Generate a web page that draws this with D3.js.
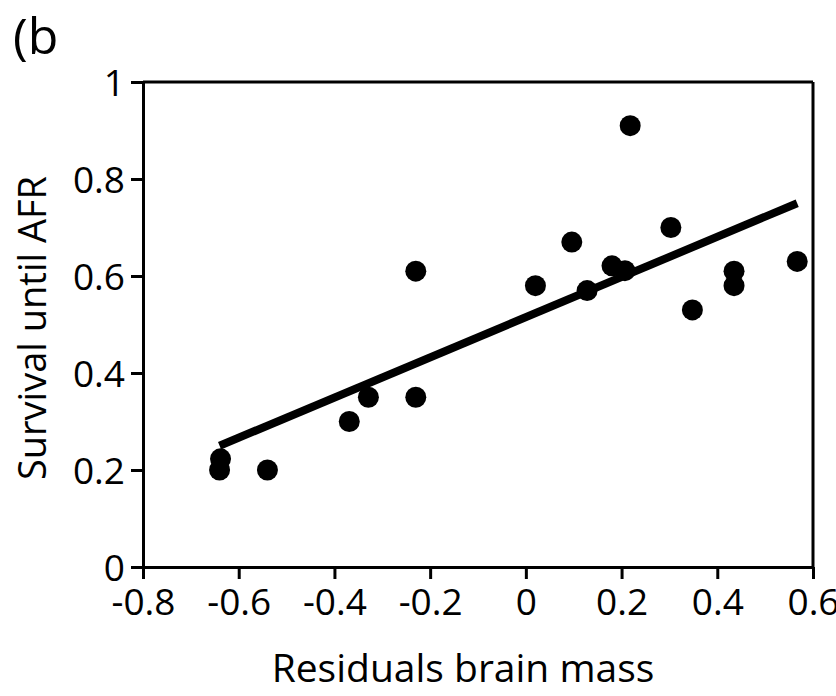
<!DOCTYPE html>
<html>
<head>
<meta charset="utf-8">
<script src="https://cdn.jsdelivr.net/npm/d3@7"></script>
<style>
  body { margin: 0; background: #fff; }
  text { font-family: "Open Sans", "Noto Sans", sans-serif; fill: #000; }
</style>
</head>
<body>
<script>
// residuals brain mass vs survival until AFR
var brainResid = [-0.638, -0.640, -0.540, -0.369, -0.329, -0.230, -0.230, 0.020, 0.096, 0.128, 0.180, 0.207, 0.218, 0.303, 0.348, 0.435, 0.435, 0.567];
var survival   = [0.223, 0.200, 0.200, 0.300, 0.350, 0.610, 0.350, 0.580, 0.670, 0.570, 0.621, 0.611, 0.910, 0.700, 0.530, 0.610, 0.580, 0.630];
var fitX = [-0.64, 0.567];
var fitY = [0.25, 0.75];
var xTicks = [-0.8, -0.6, -0.4, -0.2, 0, 0.2, 0.4, 0.6];
var yTicks = [0, 0.2, 0.4, 0.6, 0.8, 1];

var W = 836, H = 696;
// plot edges (note: "top" is reserved on window)
var mLeft = 143, mRight = 813, mTop = 82, mBottom = 567;

var svg = d3.select("body").append("svg").attr("width", W).attr("height", H);

var x = d3.scaleLinear().domain([-0.8, 0.6]).range([mLeft, mRight]);
var y = d3.scaleLinear().domain([0, 1]).range([mBottom, mTop]);

function fmt(d){
  if(d === 0) return "0";
  if(d === 1) return "1";
  return d.toFixed(1); // plain hyphen like the original
}

var gx = svg.append("g").attr("transform", "translate(0," + mBottom + ")")
  .call(d3.axisBottom(x).tickValues(xTicks).tickFormat(fmt).tickSize(12).tickSizeOuter(0).tickPadding(9));
var gy = svg.append("g").attr("transform", "translate(" + mLeft + ",0)")
  .call(d3.axisLeft(y).tickValues(yTicks).tickFormat(fmt).tickSize(12).tickSizeOuter(0).tickPadding(6));

[gx, gy].forEach(function(g){
  g.select(".domain").attr("stroke", "#000").attr("stroke-width", 3);
  g.selectAll(".tick line").attr("stroke", "#000").attr("stroke-width", 3);
  g.selectAll(".tick text").style("font-size", "37px").attr("fill", "#000");
});
gx.selectAll(".tick text").attr("dy", "0.72em");
gy.selectAll(".tick text").attr("dy", "0.36em");

// frame top and right
svg.append("line").attr("x1", mLeft).attr("x2", mRight).attr("y1", mTop).attr("y2", mTop)
  .attr("stroke", "#000").attr("stroke-width", 3);
svg.append("line").attr("x1", mRight).attr("x2", mRight).attr("y1", mTop).attr("y2", mBottom)
  .attr("stroke", "#000").attr("stroke-width", 3);

// fit line
svg.append("line")
  .attr("x1", x(fitX[0])).attr("y1", y(fitY[0]))
  .attr("x2", x(fitX[1])).attr("y2", y(fitY[1]))
  .attr("stroke", "#000").attr("stroke-width", 8);

// points
svg.selectAll("circle.pt").data(brainResid).enter().append("circle")
  .attr("class", "pt")
  .attr("cx", function(d){ return x(d); })
  .attr("cy", function(d, i){ return y(survival[i]); })
  .attr("r", 10.5)
  .attr("fill", "#000");

// labels
svg.append("text").text("Residuals brain mass")
  .attr("x", (mLeft + mRight) / 2 - 15).attr("y", 682)
  .attr("text-anchor", "middle").style("font-size", "39px");
svg.append("text").text("Survival until AFR")
  .attr("transform", "translate(46," + 328 + ") rotate(-90)")
  .attr("text-anchor", "middle").style("font-size", "38px");
svg.append("text").text("(b")
  .attr("x", 13).attr("y", 54).style("font-size", "50px");
</script>
</body>
</html>
